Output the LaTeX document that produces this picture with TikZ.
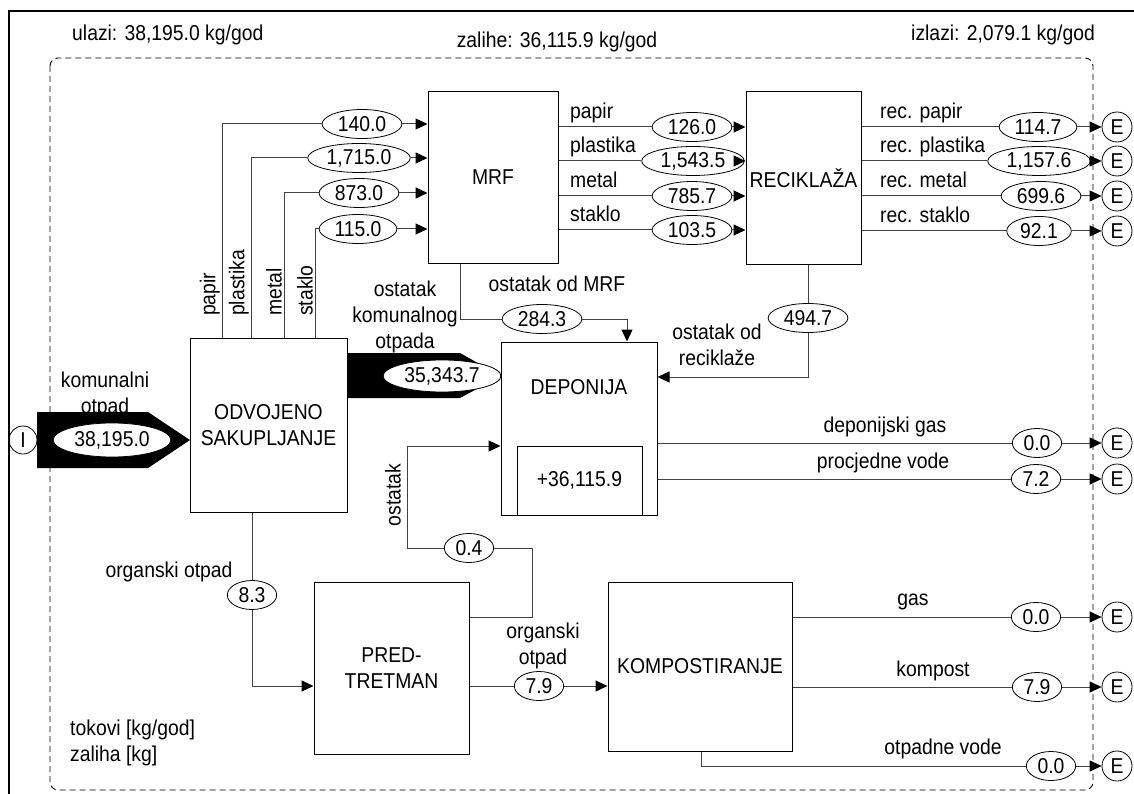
\documentclass[tikz,border=0pt]{standalone}
\usepackage{fontspec}
\setmainfont{Liberation Sans}[FakeStretch=0.9]
\usetikzlibrary{arrows.meta,shapes.geometric}
\begin{document}
\begin{tikzpicture}[x=1pt,y=-1pt, font=\fontsize{21.5}{26}\selectfont,
 box/.style={draw, line width=1pt, inner sep=0pt, align=center},
 val/.style={draw, ellipse, line width=0.8pt, fill=white, inner xsep=4pt, inner ysep=0pt, minimum height=29pt},
 flow/.style={draw=black!75, line width=1pt},
 arr/.style={flow, -{Triangle[length=12pt,width=11pt,color=black]}},
 env/.style={draw, circle, line width=0.8pt, minimum size=30pt, inner sep=0pt},
 lbl/.style={inner sep=0pt, align=center},
]
\useasboundingbox (0,0) rectangle (1134,794);
% frames
\draw[line width=2.2pt] (9,794) -- (9,11) -- (1134,11);
\draw[line width=0.9pt, dash pattern=on 6pt off 4pt, rounded corners=8pt] (50,58) rectangle (1093,790);
\node[lbl, anchor=west] (hin) at (72,35) {ulazi: 38,195.0 kg/god};
\node[lbl] (hst) at (557,42) {zalihe: 36,115.9 kg/god};
\node[lbl, anchor=east] (hout) at (1095,35) {izlazi: 2,079.1 kg/god};
\node[lbl, anchor=west, align=left] (legend) at (70,743) {tokovi [kg/god]\\zaliha [kg]};

% processes
\node[box, minimum width=130pt, minimum height=171pt] (mrf) at (493,177.5) {MRF};
\node[box, minimum width=115pt, minimum height=172pt] (rec) at (803.5,178) {RECIKLAŽA};
\node[box, minimum width=157pt, minimum height=174pt] (odv) at (268.5,425) {ODVOJENO\\SAKUPLJANJE};
\node[box, minimum width=156pt, minimum height=173pt] (dep) at (579,428.5) {};
\node[lbl] (deptxt) at (579,387) {DEPONIJA};
\node[box, minimum width=125pt, minimum height=69pt] (stock) at (579.5,480.5) {+36,115.9};
\node[box, minimum width=155pt, minimum height=172pt] (pre) at (391.5,668) {PRED-\\TRETMAN};
\node[box, minimum width=184pt, minimum height=169pt] (komp) at (700,666.5) {KOMPOSTIRANJE};

% import / export
\node[env, minimum size=28pt] (I) at (23,440) {I};
\node[env] (E1) at (1117,127) {E};
\node[env] (E2) at (1117,161) {E};
\node[env] (E3) at (1117,196) {E};
\node[env] (E4) at (1117,231) {E};
\node[env] (E5) at (1117,443) {E};
\node[env] (E6) at (1117,479) {E};
\node[env] (E7) at (1117,617) {E};
\node[env] (E8) at (1117,687) {E};
\node[env] (E9) at (1117,766) {E};

% thick flows
\fill (37,412) -- (148,412) -- (190,440) -- (148,468) -- (37,468) -- cycle;
\node[val, minimum height=34pt] (v38) at (112,440) {38,195.0};
\node[lbl] (lkom) at (105,395) {komunalni\\otpad};
\fill (347,353) -- (460,353) -- (501,376) -- (460,398) -- (347,398) -- cycle;
\node[val, minimum height=32pt] (v35) at (442,376) {35,343.7};
\node[lbl] (lost1) at (405,317) {ostatak\\komunalnog\\otpada};

% separate collection -> MRF
\coordinate (k1) at (222,124); \coordinate (k2) at (251,158);
\coordinate (k3) at (284,193); \coordinate (k4) at (315,229);
\node[val] (v140) at (362,124) {140.0};
\node[val] (v1715) at (359,158) {1,715.0};
\node[val] (v873) at (359,193) {873.0};
\node[val] (v115) at (358,229) {115.0};
\draw[flow] (odv.north -| k1) -- (k1) -- (v140); \draw[arr] (v140) -- (v140 -| mrf.west);
\draw[flow] (odv.north -| k2) -- (k2) -- (v1715); \draw[arr] (v1715) -- (v1715 -| mrf.west);
\draw[flow] (odv.north -| k3) -- (k3) -- (v873); \draw[arr] (v873) -- (v873 -| mrf.west);
\draw[flow] (odv.north -| k4) -- (k4) -- (v115); \draw[arr] (v115) -- (v115 -| mrf.west);
\node[lbl, rotate=90, anchor=south west] (lpa) at (220,316) {papir};
\node[lbl, rotate=90, anchor=south west] (lpl) at (249,316) {plastika};
\node[lbl, rotate=90, anchor=south west] (lme) at (282,316) {metal};
\node[lbl, rotate=90, anchor=south west] (lst) at (313,316) {staklo};

% MRF -> RECIKLAZA
\node[val] (v126) at (692,127) {126.0};
\node[val] (v1543) at (693,161) {1,543.5};
\node[val] (v785) at (692,196) {785.7};
\node[val] (v103) at (692,230) {103.5};
\draw[flow] (mrf.east |- v126) -- (v126); \draw[arr] (v126) -- (v126 -| rec.west);
\draw[flow] (mrf.east |- v1543) -- (v1543); \draw[arr] (v1543) -- (v1543 -| rec.west);
\draw[flow] (mrf.east |- v785) -- (v785); \draw[arr] (v785) -- (v785 -| rec.west);
\draw[flow] (mrf.east |- v103) -- (v103); \draw[arr] (v103) -- (v103 -| rec.west);
\node[lbl, anchor=base west] (lm1) at (570,119) {papir};
\node[lbl, anchor=base west] (lm2) at (570,153) {plastika};
\node[lbl, anchor=base west] (lm3) at (570,188) {metal};
\node[lbl, anchor=base west] (lm4) at (570,222) {staklo};

% RECIKLAZA -> E
\node[val] (v114) at (1038,127) {114.7};
\node[val] (v1157) at (1039,161) {1,157.6};
\node[val] (v699) at (1041,196) {699.6};
\node[val] (v92) at (1039,231) {92.1};
\draw[flow] (rec.east |- v114) -- (v114); \draw[arr] (v114) -- (E1);
\draw[flow] (rec.east |- v1157) -- (v1157); \draw[arr] (v1157) -- (E2);
\draw[flow] (rec.east |- v699) -- (v699); \draw[arr] (v699) -- (E3);
\draw[flow] (rec.east |- v92) -- (v92); \draw[arr] (v92) -- (E4);
\node[lbl, anchor=base west] (lr1) at (880,119) {rec. papir};
\node[lbl, anchor=base west] (lr2) at (880,153) {rec. plastika};
\node[lbl, anchor=base west] (lr3) at (880,188) {rec. metal};
\node[lbl, anchor=base west] (lr4) at (880,223) {rec. staklo};

% residues to landfill
\coordinate (m1) at (460,319); \coordinate (m2) at (627,319);
\node[val] (v284) at (542,319) {284.3};
\draw[flow] (mrf.south -| m1) -- (m1) -- (v284);
\draw[arr] (v284) -- (m2) -- (dep.north -| m2);
\node[lbl] (lmrf) at (557,284) {ostatak od MRF};

\coordinate (r1) at (808,377);
\node[val] (v494) at (808,318) {494.7};
\draw[flow] (rec.south -| v494) -- (v494);
\draw[arr] (v494) -- (r1) -- (dep.east |- r1);
\node[lbl] (lrec) at (717,345) {ostatak od\\reciklaže};

% landfill outputs
\node[val] (vdg) at (1037,443) {0.0};
\node[val] (vpv) at (1036,479) {7.2};
\draw[flow] (dep.east |- vdg) -- (vdg); \draw[arr] (vdg) -- (E5);
\draw[flow] (dep.east |- vpv) -- (vpv); \draw[arr] (vpv) -- (E6);
\node[lbl] (ldg) at (885,427) {deponijski gas};
\node[lbl] (lpv) at (883,463) {procjedne vode};

% organic waste
\coordinate (o1) at (252,686);
\node[val] (v83) at (252,595) {8.3};
\draw[flow] (odv.south -| v83) -- (v83);
\draw[arr] (v83) -- (o1) -- (pre.west |- o1);
\node[lbl] (lorg) at (169,572) {organski otpad};

% pretreatment residue
\coordinate (q1) at (532,617); \coordinate (q2) at (532,548);
\coordinate (q3) at (407,548); \coordinate (q4) at (407,446);
\node[val] (v04) at (469,548) {0.4};
\draw[flow] (pre.east |- q1) -- (q1) -- (q2) -- (v04);
\draw[arr] (v04) -- (q3) -- (q4) -- (dep.west |- q4);
\node[lbl, rotate=90] (lost2) at (393,495) {ostatak};

% pretreatment -> composting
\node[val] (v79) at (539,686) {7.9};
\draw[flow] (pre.east |- v79) -- (v79);
\draw[arr] (v79) -- (komp.west |- v79);
\node[lbl] (lorg2) at (543,646) {organski\\otpad};

% composting outputs
\node[val] (vg) at (1036,617) {0.0};
\node[val] (vk) at (1037,687) {7.9};
\node[val] (vo) at (1051,766) {0.0};
\coordinate (w1) at (701,766);
\draw[flow] (komp.east |- vg) -- (vg); \draw[arr] (vg) -- (E7);
\draw[flow] (komp.east |- vk) -- (vk); \draw[arr] (vk) -- (E8);
\draw[flow] (komp.south -| w1) -- (w1) -- (vo); \draw[arr] (vo) -- (E9);
\node[lbl] (lgas) at (913,602) {gas};
\node[lbl] (lkp) at (933,671) {kompost};
\node[lbl] (lov) at (943,749) {otpadne vode};
\end{tikzpicture}
\end{document}
